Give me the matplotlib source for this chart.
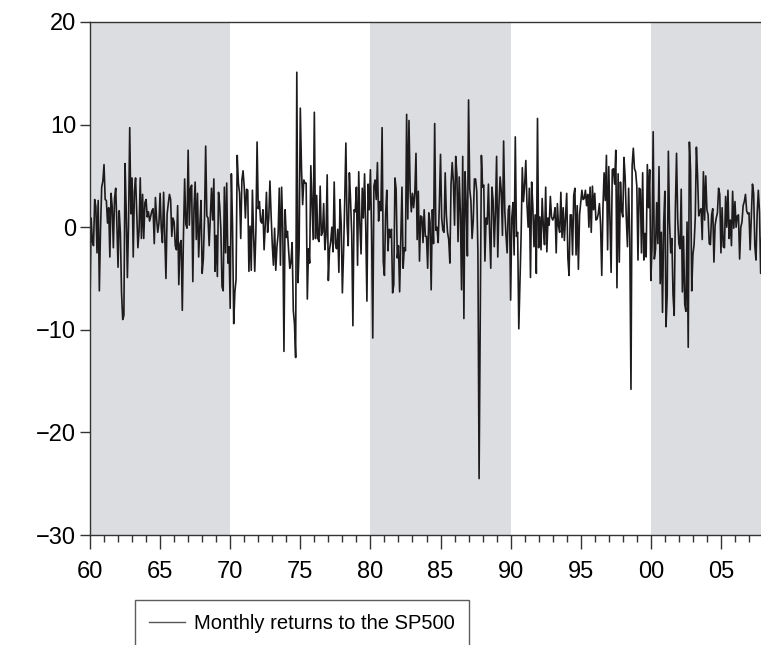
import numpy as np
import matplotlib
matplotlib.use('Agg')
import matplotlib.pyplot as plt
from matplotlib.ticker import MultipleLocator, FuncFormatter

plt.rcParams['font.family'] = ['Liberation Sans', 'DejaVu Sans']

# monthly log returns (%) of the SP500, Jan 1960 - Dec 2007, one row per year
r1960 = [-7.4, 0.9, -1.4, -1.8, 2.7, 2.0, -2.5, 2.6, -6.2, -0.2, 3.9, 4.5]
r1961 = [6.1, 2.7, 2.6, 0.4, 1.9, -2.9, 3.3, 2.0, -2.0, 2.8, 3.8, 0.3]
r1962 = [-3.9, 1.6, -0.6, -6.4, -9.0, -8.6, 6.2, 1.5, -4.9, 0.4, 9.7, 1.3]
r1963 = [4.8, -2.9, 3.5, 4.8, 1.4, -2.0, -0.3, 4.8, -1.1, 3.2, -1.1, 2.4]
r1964 = [2.7, 1.0, 1.5, 0.6, 1.1, 1.6, 1.8, -1.6, 2.9, 0.8, -0.5, 0.4]
r1965 = [3.3, -0.1, -1.5, 3.4, -0.8, -5.0, 1.3, 2.3, 3.2, 2.7, -0.9, 0.9]
r1966 = [0.5, -1.8, -2.2, 2.1, -5.6, -1.6, -1.3, -8.1, -0.7, 4.7, 0.3, -0.1]
r1967 = [7.5, 0.2, 3.8, 4.1, -5.3, 1.8, 4.4, -1.2, 3.3, -2.9, 0.1, 2.6]
r1968 = [-4.5, -3.1, 0.9, 7.9, 1.1, 0.9, -1.8, 1.1, 3.8, 0.7, 4.7, -4.3]
r1969 = [-0.8, -4.8, 3.4, 2.1, -0.2, -5.8, -6.2, 3.9, -2.5, 4.3, -3.5, -1.9]
r1970 = [-7.9, 5.2, 0.1, -9.4, -6.3, -5.1, 7.0, 4.3, 3.3, -1.1, 4.6, 5.5]
r1971 = [3.9, 0.9, 3.7, 3.6, -4.3, 0.1, -4.2, 3.6, -0.7, -4.3, -0.3, 8.3]
r1972 = [1.8, 2.5, 0.6, 0.4, 1.7, -2.2, 0.2, 3.4, -0.5, 0.9, 4.5, 1.2]
r1973 = [-1.7, -3.7, -0.1, -4.2, -1.9, -0.7, 3.8, -3.7, 3.9, -0.1, -12.1, 1.7]
r1974 = [-1.0, -0.4, -2.3, -4.0, -3.4, -1.5, -8.1, -9.4, -12.7, 15.1, -5.4, -2.0]
r1975 = [11.6, 5.8, 2.2, 4.6, 4.3, 4.3, -7.0, -2.1, -3.5, 6.0, 2.5, -1.2]
r1976 = [11.2, -1.1, 3.1, -1.1, -1.4, 4.0, -0.8, -0.5, 2.3, -2.2, -0.8, 5.1]
r1977 = [-5.2, -2.2, -1.4, 0.0, -2.4, 4.4, -1.6, -2.1, -0.2, -4.4, 2.7, 0.3]
r1978 = [-6.4, -2.5, 2.5, 8.2, 0.4, -1.8, 5.3, 2.6, -0.7, -9.6, 1.7, 1.5]
r1979 = [3.9, -3.7, 5.4, 0.2, -2.6, 3.8, 0.9, 5.2, 0.0, -7.2, 4.2, 1.7]
r1980 = [5.6, -0.4, -10.8, 4.0, 4.6, 2.7, 6.3, 0.6, 2.5, 1.6, 9.7, -3.4]
r1981 = [-4.7, 1.3, 3.6, -2.3, -0.2, -1.0, -0.2, -6.4, -5.6, 4.8, 3.7, -3.0]
r1982 = [-1.8, -6.3, -1.0, 3.9, -4.0, -2.0, -2.3, 11.0, 0.8, 10.4, 3.6, 1.5]
r1983 = [3.3, 1.9, 3.3, 7.2, -1.2, 3.5, -3.3, 1.1, 1.0, -1.5, 1.7, -0.9]
r1984 = [-0.9, -4.0, 1.4, 0.5, -6.1, 1.7, -1.6, 10.1, -0.3, 0.0, -1.5, 2.2]
r1985 = [7.1, 0.9, -0.3, -0.5, 5.3, 1.2, -0.5, -1.2, -3.5, 4.2, 6.3, 4.4]
r1986 = [0.2, 6.9, 5.2, -1.4, 4.9, 1.4, -6.1, 6.9, -8.9, 5.4, 2.1, -2.8]
r1987 = [12.4, 3.7, 2.6, -1.1, 0.6, 4.7, 4.7, 3.5, -2.4, -24.5, -8.9, 7.0]
r1988 = [3.9, 4.1, -3.3, 0.9, 0.3, 4.2, -0.5, -4.0, 3.9, 2.6, -1.9, 1.5]
r1989 = [6.9, -2.9, 2.1, 4.9, 3.5, -0.8, 8.4, 1.6, -0.7, -2.5, 1.7, 2.1]
r1990 = [-7.1, 0.9, 2.4, -2.7, 8.8, -0.9, -0.5, -9.9, -5.2, -0.7, 5.8, 2.5]
r1991 = [4.1, 6.5, 2.2, 0.0, 3.8, -4.9, 4.4, 2.0, -1.9, 1.2, -4.5, 10.6]
r1992 = [-2.0, 1.0, -2.2, 2.8, 0.1, -1.7, 3.9, -2.4, 0.9, 0.2, 3.0, 1.0]
r1993 = [0.7, 1.0, 1.9, -2.5, 2.3, 0.1, -0.5, 3.4, -1.0, 1.9, -1.3, 1.0]
r1994 = [3.3, -3.0, -4.7, 1.2, 1.2, -2.7, 3.1, 3.8, -2.7, 2.1, -4.1, 1.2]
r1995 = [2.4, 3.6, 2.7, 2.8, 3.6, 2.1, 3.2, 0.0, 3.9, -0.5, 4.0, 1.7]
r1996 = [3.3, 0.7, 0.8, 1.3, 2.3, 0.2, -4.7, 1.9, 5.3, 2.6, 7.0, -2.2]
r1997 = [5.9, 0.6, -4.4, 5.6, 5.7, 4.2, 7.5, -5.9, 5.2, -3.4, 4.4, 1.6]
r1998 = [1.0, 6.8, 4.9, 0.9, -1.9, 3.8, -1.2, -15.8, 6.0, 7.7, 5.7, 5.4]
r1999 = [4.0, -3.2, 3.8, 3.7, -2.5, 5.3, -3.2, -0.6, -2.9, 6.1, 1.9, 5.6]
r2000 = [-5.2, -2.0, 9.3, -3.1, -2.2, 2.4, -1.6, 5.9, -5.5, -0.5, -8.3, 0.4]
r2001 = [3.5, -9.7, -6.6, 7.4, 0.5, -2.5, -1.1, -6.6, -8.6, 1.8, 7.2, 0.8]
r2002 = [-1.6, -2.1, 3.7, -6.3, -0.9, -7.5, -8.2, 0.5, -11.7, 8.3, 5.5, -6.2]
r2003 = [-2.7, -1.7, 0.8, 7.8, 5.0, 1.1, 1.6, 1.8, -1.2, 5.4, 0.7, 5.0]
r2004 = [1.7, 1.2, -1.6, -1.7, 1.2, 1.8, -3.4, 0.2, 0.9, 1.4, 3.8, 3.2]
r2005 = [-2.5, 1.9, -1.9, -2.0, 3.0, 0.0, 3.6, -1.1, 0.7, -1.8, 3.5, -0.1]
r2006 = [2.5, 0.0, 1.1, 1.2, -3.1, 0.0, 0.5, 2.1, 2.5, 3.2, 1.6, 1.3]
r2007 = [1.4, -2.2, 1.0, 4.2, 3.3, -1.8, -3.2, 1.3, 3.6, 1.5, -4.5, -0.9]

years = list(range(1960, 2008))
returns = np.concatenate([globals()['r%d' % y] for y in years])
t = 1960 + np.arange(len(returns)) / 12.0

shaded = [(1960, 1970), (1980, 1990), (2000, 2010)]
y_ticks = [20, 10, 0, -10, -20, -30]

fig = plt.figure(figsize=(7.61, 6.45), dpi=100)
ax = fig.add_axes([90/761, 110/645, 673/761, 513/645])

for a, b in shaded:
    ax.axvspan(a, b, color='#dcdde0', lw=0, zorder=0)

ax.plot(t, returns, color='#1e1b1c', lw=1.2, label='Monthly returns to the SP500')

ax.set_xlim(1960, 2008)
ax.set_ylim(-30, 20)
ax.set_yticks(y_ticks)
ax.yaxis.set_major_formatter(FuncFormatter(lambda v, p: ('%d' % v).replace('-', '\u2212')))
ax.xaxis.set_major_locator(MultipleLocator(5))
ax.xaxis.set_minor_locator(MultipleLocator(1))
ax.xaxis.set_major_formatter(FuncFormatter(lambda v, p: '%02d' % (int(round(v)) % 100)))

for s in ax.spines.values():
    s.set_color('#333333')
    s.set_linewidth(1.0)
ax.spines['right'].set_visible(False)

ax.tick_params(axis='both', which='major', labelsize=17, color='#333333', width=1.0)
ax.tick_params(axis='x', which='major', length=10, pad=9)
ax.tick_params(axis='x', which='minor', length=5, width=1.0, color='#333333')
ax.tick_params(axis='y', which='major', length=7, pad=3)

leg = fig.legend(loc='upper left', bbox_to_anchor=(135/761, 45/645), fontsize=14.5,
                 frameon=True, fancybox=False, handlelength=1.8, borderpad=0.7,
                 handletextpad=0.45, borderaxespad=0)
leg.get_frame().set_edgecolor('#333333')
leg.get_frame().set_linewidth(1.0)
for ln in leg.get_lines():
    ln.set_color('#555555')
    ln.set_linewidth(1.0)

fig.savefig('out.png', dpi=100)
